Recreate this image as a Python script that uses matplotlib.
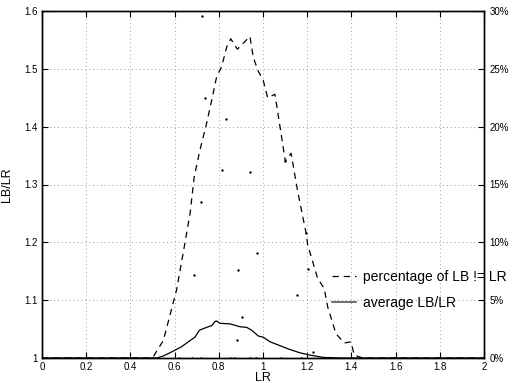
import matplotlib
matplotlib.use("Agg")
import matplotlib.pyplot as plt
from matplotlib.lines import Line2D

plt.rcParams['font.family'] = ['Liberation Sans', 'DejaVu Sans']

# percentage of LB != LR (right axis, %)
pct_x = [0.0, 0.50, 0.519, 0.549, 0.609, 0.639, 0.670, 0.689, 0.715, 0.745, 0.768, 0.790,
         0.813, 0.836, 0.854, 0.884, 0.941, 0.956, 0.976, 1.001, 1.021, 1.054, 1.081,
         1.101, 1.127, 1.157, 1.195, 1.202, 1.247, 1.277, 1.293, 1.330, 1.368, 1.398,
         1.413, 1.436, 1.45, 2.0]
pct_y = [0.0, 0.0, 0.6, 1.5, 5.9, 9.1, 12.5, 15.7, 18.0, 20.3, 22.3, 24.3,
         25.2, 26.9, 27.6, 26.7, 27.8, 26.0, 24.9, 24.0, 22.5, 22.8, 19.5,
         17.0, 17.7, 14.4, 10.8, 9.8, 6.9, 6.0, 4.4, 2.1, 1.3, 1.4,
         0.25, 0.1, 0.0, 0.0]

# average LB/LR (left axis)
avg_x = [0.0, 0.519, 0.549, 0.579, 0.609, 0.632, 0.662, 0.692, 0.712, 0.745, 0.768, 0.783,
         0.790, 0.805, 0.851, 0.896, 0.926, 0.949, 0.979, 1.001, 1.032, 1.069, 1.115,
         1.167, 1.213, 1.273, 1.35, 2.0]
avg_y = [1.0, 1.0, 1.0035, 1.009, 1.015, 1.0196, 1.028, 1.036, 1.048, 1.053, 1.056, 1.063,
         1.064, 1.060, 1.059, 1.054, 1.053, 1.048, 1.038, 1.036, 1.028, 1.0225, 1.0156,
         1.009, 1.005, 1.001, 1.0, 1.0]

# individual LB/LR samples (dots)
dot_x = [0.722, 0.737, 0.833, 0.813, 0.941, 0.718, 0.971, 0.888, 0.689, 1.152, 0.904,
         0.884, 1.100, 1.195, 1.202, 1.225,
         0.11, 0.13, 0.31, 0.38, 0.50, 0.62, 0.68, 0.72, 0.85, 0.87, 0.94, 0.97, 1.08,
         1.17, 1.80, 1.88]
dot_y = [1.592, 1.450, 1.4135, 1.325, 1.321, 1.270, 1.181, 1.153, 1.144, 1.109, 1.071,
         1.031, 1.341, 1.216, 1.154, 1.0099,
         1.0, 1.0, 1.0, 1.0, 1.0, 1.0, 1.0, 1.0, 1.0, 1.0, 1.0, 1.0, 1.0,
         1.0, 1.0, 1.0]

x_ticks = [0, 0.2, 0.4, 0.6, 0.8, 1, 1.2, 1.4, 1.6, 1.8, 2]
x_tick_labels = ['0', '0.2', '0.4', '0.6', '0.8', '1', '1.2', '1.4', '1.6', '1.8', '2']
y_ticks = [1, 1.1, 1.2, 1.3, 1.4, 1.5, 1.6]
y_tick_labels = ['1', '1.1', '1.2', '1.3', '1.4', '1.5', '1.6']
r_ticks = [0, 5, 10, 15, 20, 25, 30]
r_tick_labels = ['0%', '5%', '10%', '15%', '20%', '25%', '30%']

fig = plt.figure(figsize=(5.12, 3.83), dpi=100)
W, H = 512, 383
ax = fig.add_axes([42 / W, (H - 358) / H, (484 - 42) / W, (358 - 11) / H])
ax2 = ax.twinx()

ax.plot(avg_x, avg_y, color='black', lw=0.9)
ax.scatter(dot_x, dot_y, s=3, color='black', linewidths=0, zorder=3)
ax2.plot(pct_x, pct_y, color='black', lw=0.9, dashes=(5, 4))

ax.set_xlim(0, 2)
ax.set_ylim(1, 1.6)
ax2.set_ylim(0, 30)
ax.set_xticks(x_ticks)
ax.set_xticklabels(x_tick_labels)
ax.set_yticks(y_ticks)
ax.set_yticklabels(y_tick_labels)
ax2.set_yticks(r_ticks)
ax2.set_yticklabels(r_tick_labels)

ax.grid(True, color='#a0a0a0', linestyle=(0, (1, 3)), linewidth=0.7)
ax.tick_params(direction='in', length=4, width=0.8, labelsize=7, top=True, pad=3)
ax2.tick_params(direction='in', length=4, width=0.8, labelsize=7, pad=4)
for a in (ax, ax2):
    for s in a.spines.values():
        s.set_linewidth(1.0)

ax.set_xlabel('LR', fontsize=9, labelpad=0)
ax.set_ylabel('LB/LR', fontsize=9, labelpad=8)

handles = [Line2D([], [], color='black', lw=0.9, dashes=(5, 4)),
           Line2D([], [], color='#555555', lw=1.2)]
labels = ['percentage of LB != LR', 'average LB/LR']
fig.legend(handles, labels, loc='upper left', bbox_to_anchor=(332 / W, (H - 270) / H),
           frameon=False, fontsize=10, handlelength=1.7, handletextpad=0.5,
           labelspacing=0.85, borderpad=0, borderaxespad=0)

fig.savefig('out.png', dpi=100)
